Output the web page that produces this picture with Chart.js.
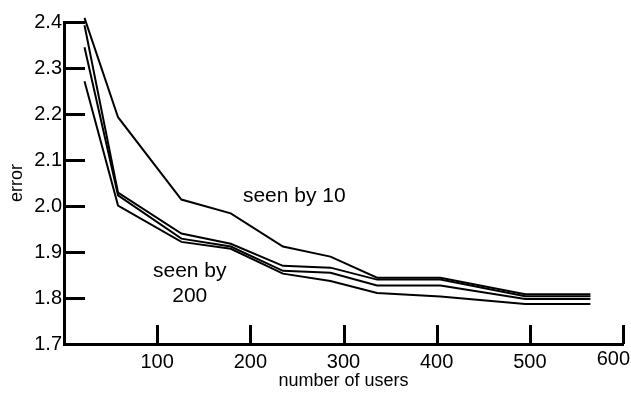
<!DOCTYPE html>
<html>
<head>
<meta charset="utf-8">
<script src="https://cdn.jsdelivr.net/npm/chart.js@4/dist/chart.umd.min.js"></script>
<style>
  html, body { margin: 0; padding: 0; background: #fff; }
  #wrap { width: 631px; height: 397px; }
</style>
</head>
<body>
<div id="wrap"><canvas id="chart" width="631" height="397"></canvas></div>
<script>
// number of users at each measured point
const users = [22, 58, 126, 179, 235, 286, 336, 404, 495, 565];

// error curves, top to bottom
const seenBy10 = [2.409, 2.193, 2.014, 1.984, 1.912, 1.890, 1.844, 1.844, 1.808, 1.808];
const seenByB = [2.393, 2.029, 1.940, 1.918, 1.870, 1.866, 1.840, 1.840, 1.804, 1.804];
const seenByC = [2.345, 2.023, 1.929, 1.912, 1.859, 1.855, 1.827, 1.827, 1.798, 1.798];
const seenBy200 = [2.271, 2.001, 1.922, 1.907, 1.853, 1.837, 1.811, 1.803, 1.787, 1.787];

const xTicks = [100, 200, 300, 400, 500, 600];
const yTicks = [1.7, 1.8, 1.9, 2.0, 2.1, 2.2, 2.3, 2.4];

const FONT = 'Liberation Sans, Arial, Helvetica, sans-serif';

const toPoints = (ys) => ys.map((y, i) => ({ x: users[i], y: y }));

// short tick marks pointing into the plot, the last x label, and the two line labels
const innerTicks = {
    id: 'innerTicks',
    afterDraw(chart) {
        const ctx = chart.ctx;
        const x = chart.scales.x;
        const y = chart.scales.y;
        const area = chart.chartArea;
        ctx.save();
        ctx.strokeStyle = '#000';
        ctx.lineWidth = 3;
        ctx.beginPath();
        yTicks.forEach(v => {
            if (v === 1.7) return;
            const py = Math.round(y.getPixelForValue(v)) + 0.5;
            ctx.moveTo(area.left, py);
            ctx.lineTo(area.left + 21, py);
        });
        xTicks.forEach(v => {
            const px = Math.round(x.getPixelForValue(v)) + 0.5;
            ctx.moveTo(px, area.bottom);
            ctx.lineTo(px, area.bottom - 19);
        });
        ctx.stroke();

        ctx.fillStyle = '#000';
        // the last tick label sits left of its tick so it stays on the page
        ctx.font = '20px ' + FONT;
        ctx.textAlign = 'right';
        ctx.textBaseline = 'middle';
        ctx.fillText(String(xTicks[xTicks.length - 1]), chart.width - 1, area.bottom + 15);

        ctx.font = '21px ' + FONT;
        ctx.textAlign = 'left';
        ctx.fillText('seen by 10', x.getPixelForValue(192), y.getPixelForValue(2.022));
        ctx.textAlign = 'center';
        ctx.fillText('seen by', x.getPixelForValue(135), y.getPixelForValue(1.859));
        ctx.fillText('200', x.getPixelForValue(135), y.getPixelForValue(1.804));
        ctx.restore();
    }
};

const lineStyle = {
    borderColor: '#000',
    borderWidth: 2,
    pointRadius: 0,
    tension: 0,
    fill: false,
    clip: false
};

new Chart(document.getElementById('chart'), {
    type: 'line',
    data: {
        datasets: [
            { label: 'seen by 10', data: toPoints(seenBy10), ...lineStyle },
            { label: 'seen by B', data: toPoints(seenByB), ...lineStyle },
            { label: 'seen by C', data: toPoints(seenByC), ...lineStyle },
            { label: 'seen by 200', data: toPoints(seenBy200), ...lineStyle }
        ]
    },
    options: {
        responsive: false,
        animation: false,
        layout: { padding: { top: 22, right: 8, left: 0, bottom: 0 } },
        plugins: {
            legend: { display: false },
            tooltip: { enabled: false }
        },
        scales: {
            x: {
                type: 'linear',
                min: 0,
                max: 600,
                afterBuildTicks: (scale) => { scale.ticks = xTicks.map(v => ({ value: v })); },
                afterFit: (scale) => {
                    scale.height = 53;
                    scale.paddingLeft = 0;
                    scale.paddingRight = 0;
                },
                grid: { display: true, drawOnChartArea: false, drawTicks: false, color: 'rgba(0,0,0,0)' },
                border: { display: true, color: '#000', width: 3 },
                ticks: {
                    color: '#000',
                    font: { family: FONT, size: 20 },
                    padding: 6,
                    maxRotation: 0,
                    autoSkip: false,
                    callback: (v) => (v === 600 ? '' : String(v))
                },
                title: {
                    display: true,
                    text: 'number of users',
                    color: '#000',
                    font: { family: FONT, size: 18 },
                    padding: { top: 0, bottom: 5 }
                }
            },
            y: {
                type: 'linear',
                min: 1.7,
                max: 2.4,
                afterBuildTicks: (scale) => { scale.ticks = yTicks.map(v => ({ value: v })); },
                afterFit: (scale) => { scale.width = 64; },
                grid: { display: true, drawOnChartArea: false, drawTicks: false, color: 'rgba(0,0,0,0)' },
                border: { display: true, color: '#000', width: 3 },
                ticks: {
                    color: '#000',
                    font: { family: FONT, size: 20 },
                    padding: 2,
                    callback: (v) => Number(v).toFixed(1)
                },
                title: {
                    display: true,
                    text: 'error',
                    color: '#000',
                    font: { family: FONT, size: 18 },
                    padding: { top: 6, bottom: 0 }
                }
            }
        }
    },
    plugins: [innerTicks]
});
</script>
</body>
</html>
